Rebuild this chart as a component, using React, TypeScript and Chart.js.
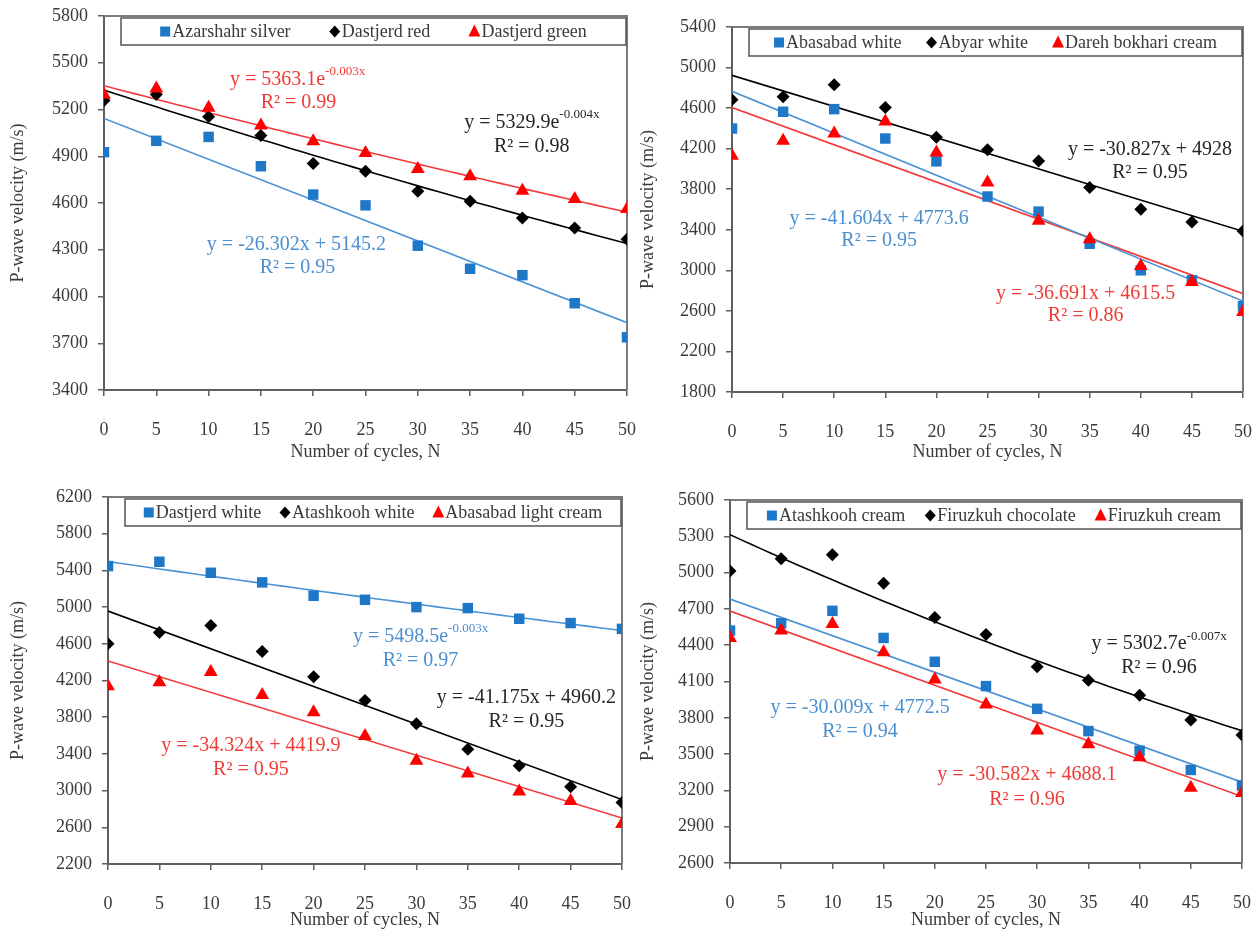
import React, { useEffect, useRef } from "react";
import { Chart, registerables } from "chart.js";
Chart.register(...registerables);

// ---------- DATA ----------
const cycles = [0, 5, 10, 15, 20, 25, 30, 35, 40, 45, 50];

// Panel A
const azarshahrSilver = [4926, 4999, 5024, 4836, 4654, 4585, 4326, 4178, 4137, 3957, 3738];
const dastjerdRed = [5258, 5296, 5153, 5033, 4853, 4803, 4675, 4611, 4504, 4439, 4368];
const dastjerdGreen = [5295, 5335, 5211, 5097, 4996, 4921, 4818, 4771, 4679, 4626, 4561];

// Panel B
const abasabadWhite = [4399, 4564, 4590, 4300, 4075, 3728, 3579, 3262, 3000, 2902, 2646];
const abyarWhite = [4682, 4712, 4830, 4607, 4312, 4190, 4078, 3816, 3602, 3477, 3387];
const darehBokhariCream = [4131, 4277, 4350, 4468, 4162, 3866, 3488, 3307, 3043, 2885, 2590];

// Panel C
const dastjerdWhite = [5447, 5494, 5374, 5269, 5123, 5080, 5000, 4989, 4873, 4826, 4763];
const atashkoohWhite = [4600, 4723, 4799, 4517, 4240, 3981, 3728, 3451, 3270, 3043, 2870];
const abasabadLightCream = [4138, 4182, 4294, 4041, 3854, 3595, 3324, 3186, 2989, 2888, 2636];

// Panel D
const atashkoohCream = [4521, 4581, 4684, 4460, 4263, 4062, 3874, 3690, 3527, 3369, 3241];
const firuzkuhChocolate = [5014, 5114, 5148, 4911, 4629, 4488, 4222, 4111, 3986, 3781, 3658];
const firuzkuhCream = [4460, 4521, 4575, 4342, 4116, 3910, 3696, 3581, 3473, 3222, 3178];

// Axis ranges (min, max, step)
const yTicksA = [3400, 5800, 300];
const yTicksB = [1800, 5400, 400];
const yTicksC = [2200, 6200, 400];
const yTicksD = [2600, 5600, 300];
const xTicks = [0, 50, 5];

const xTitle = "Number of cycles, N";
const yTitle = "P-wave velocity (m/s)";

// ---------- STYLE ----------
const FONT = "'Liberation Serif', 'Times New Roman', serif";
const BLUE = "#1f77c8";
const BLUE_LINE = "#4b92d4";
const BLUE_TEXT = "#4a8fd0";
const BLACK = "#000000";
const BLACK_TEXT = "#262626";
const RED = "#ff0000";
const RED_LINE = "#f23a3a";
const RED_TEXT = "#ef3b35";
const AXIS = "#5f5f5f";
const TEXT = "#3a3a3a";

type Kind = "blue" | "black" | "red";
const kindStyle: Record<Kind, { mark: string; line: string; text: string; shape: string; r: number }> = {
  blue: { mark: BLUE, line: BLUE_LINE, text: BLUE_TEXT, shape: "rect", r: 7.4 },
  black: { mark: BLACK, line: BLACK, text: BLACK_TEXT, shape: "rectRot", r: 6.5 },
  red: { mark: RED, line: RED_LINE, text: RED_TEXT, shape: "triangle", r: 8 },
};

type SeriesDef = { label: string; data: number[]; kind: Kind; fit: "lin" | "exp" };
type NoteDef = { x: number; y: number; kind: Kind; main: string; sup?: string };
type PanelDef = {
  pos: [number, number];
  size: [number, number];
  area: { left: number; top: number; right: number; bottom: number };
  y: number[];
  series: SeriesDef[];
  notes: NoteDef[];
};

const panels: PanelDef[] = [
  {
    pos: [0, 0],
    size: [645, 468],
    area: { left: 104, top: 16, right: 627, bottom: 390 },
    y: yTicksA,
    series: [
      { label: "Azarshahr silver", data: azarshahrSilver, kind: "blue", fit: "lin" },
      { label: "Dastjerd red", data: dastjerdRed, kind: "black", fit: "exp" },
      { label: "Dastjerd green", data: dastjerdGreen, kind: "red", fit: "exp" },
    ],
    notes: [
      { x: 18.5, y: 5393, kind: "red", main: "y = 5363.1e", sup: "-0.003x" },
      { x: 18.6, y: 5243, kind: "red", main: "R² = 0.99" },
      { x: 40.9, y: 5118, kind: "black", main: "y = 5329.9e", sup: "-0.004x" },
      { x: 40.9, y: 4964, kind: "black", main: "R² = 0.98" },
      { x: 18.4, y: 4332, kind: "blue", main: "y = -26.302x + 5145.2" },
      { x: 18.5, y: 4182, kind: "blue", main: "R² = 0.95" },
    ],
  },
  {
    pos: [630, 0],
    size: [630, 468],
    area: { left: 102, top: 27, right: 613, bottom: 392 },
    y: yTicksB,
    series: [
      { label: "Abasabad white", data: abasabadWhite, kind: "blue", fit: "lin" },
      { label: "Abyar white", data: abyarWhite, kind: "black", fit: "lin" },
      { label: "Dareh bokhari cream", data: darehBokhariCream, kind: "red", fit: "lin" },
    ],
    notes: [
      { x: 40.9, y: 4189, kind: "black", main: "y = -30.827x + 4928" },
      { x: 40.9, y: 3958, kind: "black", main: "R² = 0.95" },
      { x: 14.4, y: 3507, kind: "blue", main: "y = -41.604x + 4773.6" },
      { x: 14.4, y: 3287, kind: "blue", main: "R² = 0.95" },
      { x: 34.6, y: 2773, kind: "red", main: "y = -36.691x + 4615.5" },
      { x: 34.6, y: 2552, kind: "red", main: "R² = 0.86" },
    ],
  },
  {
    pos: [0, 468],
    size: [640, 468],
    area: { left: 108, top: 29, right: 622, bottom: 396 },
    y: yTicksC,
    series: [
      { label: "Dastjerd white", data: dastjerdWhite, kind: "blue", fit: "exp" },
      { label: "Atashkooh white", data: atashkoohWhite, kind: "black", fit: "lin" },
      { label: "Abasabad light cream", data: abasabadLightCream, kind: "red", fit: "lin" },
    ],
    notes: [
      { x: 30.4, y: 4680, kind: "blue", main: "y = 5498.5e", sup: "-0.003x" },
      { x: 30.4, y: 4415, kind: "blue", main: "R² = 0.97" },
      { x: 40.7, y: 4010, kind: "black", main: "y = -41.175x + 4960.2" },
      { x: 40.7, y: 3749, kind: "black", main: "R² = 0.95" },
      { x: 13.9, y: 3485, kind: "red", main: "y = -34.324x + 4419.9" },
      { x: 13.9, y: 3232, kind: "red", main: "R² = 0.95" },
    ],
  },
  {
    pos: [630, 468],
    size: [630, 468],
    area: { left: 100, top: 32, right: 612, bottom: 395 },
    y: yTicksD,
    series: [
      { label: "Atashkooh cream", data: atashkoohCream, kind: "blue", fit: "lin" },
      { label: "Firuzkuh chocolate", data: firuzkuhChocolate, kind: "black", fit: "exp" },
      { label: "Firuzkuh cream", data: firuzkuhCream, kind: "red", fit: "lin" },
    ],
    notes: [
      { x: 41.9, y: 4408, kind: "black", main: "y = 5302.7e", sup: "-0.007x" },
      { x: 41.9, y: 4216, kind: "black", main: "R² = 0.96" },
      { x: 12.7, y: 3882, kind: "blue", main: "y = -30.009x + 4772.5" },
      { x: 12.7, y: 3682, kind: "blue", main: "R² = 0.94" },
      { x: 29.0, y: 3326, kind: "red", main: "y = -30.582x + 4688.1" },
      { x: 29.0, y: 3126, kind: "red", main: "R² = 0.96" },
    ],
  },
];

// Least-squares trendline (linear, or exponential via log-linear fit, as Excel does)
function trend(xs: number[], ys: number[], fit: "lin" | "exp") {
  const t = fit === "exp" ? ys.map((v) => Math.log(v)) : ys;
  const n = xs.length;
  const mx = xs.reduce((a, b) => a + b, 0) / n;
  const my = t.reduce((a, b) => a + b, 0) / n;
  let sxy = 0;
  let sxx = 0;
  for (let i = 0; i < n; i++) {
    sxy += (xs[i] - mx) * (t[i] - my);
    sxx += (xs[i] - mx) * (xs[i] - mx);
  }
  const b = sxy / sxx;
  const a = my - b * mx;
  const pts: { x: number; y: number }[] = [];
  const x0 = xs[0];
  const x1 = xs[n - 1];
  const steps = fit === "exp" ? 50 : 1;
  for (let k = 0; k <= steps; k++) {
    const x = x0 + ((x1 - x0) * k) / steps;
    const v = a + b * x;
    pts.push({ x, y: fit === "exp" ? Math.exp(v) : v });
  }
  return pts;
}

function drawMarker(ctx: CanvasRenderingContext2D, kind: Kind, x: number, y: number) {
  const s = kindStyle[kind];
  ctx.fillStyle = s.mark;
  ctx.beginPath();
  if (kind === "blue") {
    ctx.rect(x - 5, y - 5, 10, 10);
  } else if (kind === "black") {
    ctx.moveTo(x, y - 6);
    ctx.lineTo(x + 5.5, y);
    ctx.lineTo(x, y + 6);
    ctx.lineTo(x - 5.5, y);
    ctx.closePath();
  } else {
    ctx.moveTo(x, y - 7);
    ctx.lineTo(x + 6, y + 5);
    ctx.lineTo(x - 6, y + 5);
    ctx.closePath();
  }
  ctx.fill();
}

function makePlugin(p: PanelDef) {
  return {
    id: "panelDecor",
    beforeDatasetsDraw(chart: any) {
      const { left, top, right, bottom } = chart.chartArea;
      const ctx = chart.ctx;
      ctx.save();
      ctx.strokeStyle = "#7a7a7a";
      ctx.lineWidth = 2;
      ctx.beginPath();
      ctx.moveTo(left, top);
      ctx.lineTo(right, top);
      ctx.lineTo(right, bottom);
      ctx.stroke();
      ctx.restore();
    },
    afterDraw(chart: any) {
      const ctx: CanvasRenderingContext2D = chart.ctx;
      const { left, top, right } = chart.chartArea;
      const xs = chart.scales.x;
      const ys = chart.scales.y;
      ctx.save();
      // equation notes
      ctx.textBaseline = "middle";
      for (const n of p.notes) {
        const cx = xs.getPixelForValue(n.x);
        const cy = ys.getPixelForValue(n.y);
        ctx.fillStyle = kindStyle[n.kind].text;
        ctx.font = `20px ${FONT}`;
        const wMain = ctx.measureText(n.main).width;
        let wSup = 0;
        if (n.sup) {
          ctx.font = `13px ${FONT}`;
          wSup = ctx.measureText(n.sup).width;
        }
        const x0 = cx - (wMain + wSup) / 2;
        ctx.font = `20px ${FONT}`;
        ctx.textAlign = "left";
        ctx.fillText(n.main, x0, cy);
        if (n.sup) {
          ctx.font = `13px ${FONT}`;
          ctx.fillText(n.sup, x0 + wMain, cy - 8);
        }
      }
      // legend box
      const bx = left + 17;
      const bw = right - 1 - bx;
      const by = top + 2;
      const bh = 27;
      ctx.fillStyle = "#ffffff";
      ctx.fillRect(bx, by, bw, bh);
      ctx.strokeStyle = "#555555";
      ctx.lineWidth = 1.5;
      ctx.strokeRect(bx, by, bw, bh);
      ctx.font = `18px ${FONT}`;
      const widths = p.series.map((s) => 10 + 2 + ctx.measureText(s.label).width);
      const total = widths.reduce((a, b) => a + b, 0);
      const gap = (bw - total) / (p.series.length + 1);
      let cx = bx + gap;
      const cy = by + bh / 2;
      p.series.forEach((s, i) => {
        drawMarker(ctx, s.kind, cx + 5, cy);
        ctx.fillStyle = TEXT;
        ctx.textAlign = "left";
        ctx.textBaseline = "middle";
        ctx.fillText(s.label, cx + 12, cy + 1);
        cx += widths[i] + gap;
      });
      ctx.restore();
    },
  };
}

function buildConfig(p: PanelDef): any {
  const orderOf: Record<Kind, number> = { red: 1, black: 2, blue: 3 };
  const datasets: any[] = [];
  for (const s of p.series) {
    const st = kindStyle[s.kind];
    datasets.push({
      type: "scatter",
      label: s.label,
      data: cycles.map((x, i) => ({ x, y: s.data[i] })),
      showLine: false,
      pointStyle: st.shape,
      pointRadius: st.r,
      pointHoverRadius: st.r,
      pointBackgroundColor: st.mark,
      pointBorderColor: st.mark,
      pointBorderWidth: 0,
      order: orderOf[s.kind],
    });
  }
  for (const s of p.series) {
    const st = kindStyle[s.kind];
    datasets.push({
      type: "line",
      label: s.label + " trend",
      data: trend(cycles, s.data, s.fit),
      borderColor: st.line,
      borderWidth: 1.6,
      pointRadius: 0,
      tension: 0,
      fill: false,
      order: 10,
    });
  }
  const tickFont = { family: FONT, size: 18 };
  const area = p.area;
  const [W, H] = p.size;
  return {
    type: "scatter",
    data: { datasets },
    options: {
      responsive: false,
      animation: false,
      events: [],
      layout: { padding: { top: area.top, right: W - area.right, left: 0, bottom: 0 } },
      plugins: { legend: { display: false }, tooltip: { enabled: false }, title: { display: false } },
      scales: {
        x: {
          type: "linear",
          min: xTicks[0],
          max: xTicks[1],
          ticks: { stepSize: xTicks[2], font: tickFont, color: TEXT, padding: 23, maxRotation: 0, callback: (v: any) => String(v) },
          grid: { display: true, drawOnChartArea: false, drawTicks: true, tickLength: 6, color: AXIS, lineWidth: 1.5 },
          border: { display: true, color: AXIS, width: 2 },
          title: { display: true, text: xTitle, font: { family: FONT, size: 18 }, color: TEXT, padding: { top: 0, bottom: 5 } },
          afterFit(scale: any) {
            scale.height = H - area.bottom;
            scale.paddingLeft = 0;
            scale.paddingRight = 0;
          },
        },
        y: {
          type: "linear",
          min: p.y[0],
          max: p.y[1],
          ticks: { stepSize: p.y[2], font: tickFont, color: TEXT, padding: 10, callback: (v: any) => String(v) },
          grid: { display: true, drawOnChartArea: false, drawTicks: true, tickLength: 6, color: AXIS, lineWidth: 1.5 },
          border: { display: true, color: AXIS, width: 2 },
          title: { display: true, text: yTitle, font: { family: FONT, size: 18 }, color: TEXT, padding: { top: 7, bottom: 0 } },
          afterFit(scale: any) {
            scale.width = area.left;
            scale.paddingTop = 0;
            scale.paddingBottom = 0;
          },
        },
      },
    },
    plugins: [makePlugin(p)],
  };
}

export default function App() {
  const refs = [useRef<HTMLCanvasElement>(null), useRef<HTMLCanvasElement>(null), useRef<HTMLCanvasElement>(null), useRef<HTMLCanvasElement>(null)];
  useEffect(() => {
    const charts: Chart[] = [];
    panels.forEach((p, i) => {
      const c = refs[i].current;
      if (c) charts.push(new Chart(c, buildConfig(p)));
    });
    return () => charts.forEach((c) => c.destroy());
  }, []);
  return (
    <div style={{ position: "absolute", left: 0, top: 0, width: 1260, height: 936, background: "#ffffff" }}>
      {panels.map((p, i) => (
        <canvas
          key={i}
          ref={refs[i]}
          width={p.size[0]}
          height={p.size[1]}
          style={{ position: "absolute", left: p.pos[0], top: p.pos[1], width: p.size[0], height: p.size[1], display: "block" }}
        />
      ))}
    </div>
  );
}
